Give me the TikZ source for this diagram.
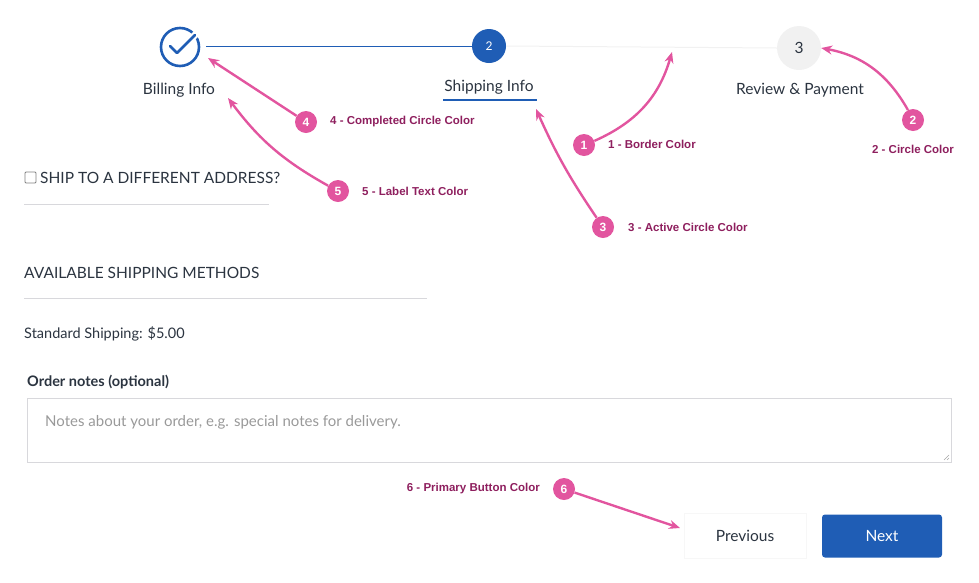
\documentclass[tikz,border=0pt]{standalone}
\usepackage{fontspec}
\setmainfont{Lato}
\newfontfamily\notefont{Liberation Sans}
\usetikzlibrary{arrows.meta}
\definecolor{stepblue}{HTML}{1F5DB5}
\definecolor{stepgray}{HTML}{F1F1F1}
\definecolor{notepink}{HTML}{E2559F}
\definecolor{notetext}{HTML}{8E1F5E}
\definecolor{uitext}{HTML}{2B3440}
\definecolor{rulegray}{HTML}{D8D8DC}
\begin{document}
\begin{tikzpicture}[
    x=1pt, y=-1pt,
    ui/.style={text=uitext, font=\fontsize{15.5}{18}\selectfont, inner sep=0pt},
    stepdot/.style={circle, inner sep=0pt},
    badge/.style={circle, fill=notepink, text=white, minimum size=22pt, inner sep=0pt, font=\notefont\bfseries\fontsize{12}{13}\selectfont},
    note/.style={text=notetext, inner sep=0pt, font=\notefont\bfseries\fontsize{11.5}{13}\selectfont},
    hint/.style={notepink, line width=2.4pt, -{Stealth[length=11pt,width=9pt]}},
    sep/.style={rulegray, line width=0.8pt}
  ]
  \useasboundingbox (0,0) rectangle (979,582);

  % progress steps
  \node (billing)  [stepdot, draw=stepblue, line width=2.6pt, minimum size=38pt] at (180,47) {};
  \draw[white, line width=7pt] (190,40) -- (200,30);
  \draw[stepblue, line width=2.8pt, line cap=round, line join=round]
       (170,46) -- (177,53) -- (195,35);
  \node (shipping) [stepdot, fill=stepblue, text=white, minimum size=34pt, font=\fontsize{12}{13}\selectfont] at (489,46) {2};
  \node (review)   [stepdot, fill=stepgray, text=uitext, minimum size=44pt, font=\fontsize{15.5}{18}\selectfont] at (799,48) {3};
  \draw[stepblue, line width=1pt] (206,46) -- (shipping.west);
  \draw[stepgray, line width=1pt] (shipping.east) -- (review.west);

  \node (billinglbl)  [ui] at (179,90) {Billing Info};
  \node (shippinglbl) [ui] at (489,87) {Shipping Info};
  \draw[stepblue, line width=2pt] (443,100) -- (537,100);
  \node (reviewlbl)   [ui] at (800,90) {Review \& Payment};

  % form
  \draw[gray, line width=0.8pt, rounded corners=1pt] (25,172) rectangle (36,183);
  \node (shipdiff) [ui, anchor=west] at (40,178) {SHIP TO A DIFFERENT ADDRESS?};
  \draw[sep] (24,204) -- (269,204);
  \node (methods)  [ui, anchor=west] at (24,273) {AVAILABLE SHIPPING METHODS};
  \draw[sep] (24,298) -- (427,298);
  \node (standard) [ui, anchor=west, font=\fontsize{14.5}{17}\selectfont] at (24,334) {Standard Shipping: \$5.00};
  \node (notes)    [ui, anchor=west, font=\bfseries\fontsize{14.5}{17}\selectfont] at (27,382) {Order notes (optional)};
  \draw[rulegray, line width=1pt] (27,398) rectangle (951,462);
  \node (placeholder) [ui, anchor=west, text=gray!80, font=\fontsize{15}{17}\selectfont] at (45,422) {Notes about your order, e.g. special notes for delivery.};
  \draw[gray!70] (944,460) -- (949,455) (947,460) -- (949,458);

  % buttons
  \node (prev) [ui, fill=white, draw=stepgray!60, minimum width=122pt, minimum height=45pt] at (745,536) {Previous};
  \node (next) [ui, fill=stepblue, text=white, rounded corners=3pt, minimum width=120pt, minimum height=43pt] at (882,536) {Next};

  % annotations
  \node (b1) [badge] at (584,145) {1};
  \node (b2) [badge] at (913,120) {2};
  \node (b3) [badge] at (603,227) {3};
  \node (b4) [badge] at (306,122) {4};
  \node (b5) [badge] at (338,191) {5};
  \node (b6) [badge] at (564,489) {6};
  \node (n1) [note, anchor=west] at (608,144) {1 - Border Color};
  \node (n2) [note] at (913,149) {2 - Circle Color};
  \node (n3) [note, anchor=west] at (628,227) {3 - Active Circle Color};
  \node (n4) [note, anchor=west] at (330,122) {4 - Completed Circle Color};
  \node (n5) [note, anchor=west] at (362,191) {5 - Label Text Color};
  \node (n6) [note, anchor=east] at (540,489) {6 - Primary Button Color};

  \coordinate (borderpt) at (672,52);
  \draw[hint] (b1) to[bend right=25] (borderpt);
  \draw[hint] (b2) to[bend right=25] (review.east);
  \draw[hint] (b3) to[bend left=5] (536,109);
  \draw[hint] (b4) -- (208,58);
  \draw[hint] (b5) to[bend left=12] (228,98);
  \draw[hint] (b6) -- (680,528);
\end{tikzpicture}
\end{document}
